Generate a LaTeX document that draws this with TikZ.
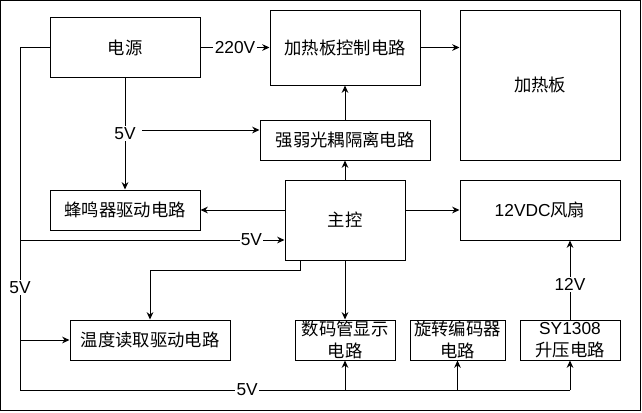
\documentclass[tikz,border=0pt]{standalone}
\usepackage{fontspec}
\setmainfont{Liberation Sans}
\newfontfamily\cjk{Noto Sans CJK SC}
\usetikzlibrary{arrows.meta}
\tikzset{
	blk/.style={draw, inner sep=0pt, align=center, font=\fontsize{13}{16.5}\selectfont},
	sz/.style 2 args={minimum width=#1*0.75pt, minimum height=#2*0.75pt},
	lbl/.style={fill=white, inner sep=1pt, font=\fontsize{13}{16}\selectfont}
}

\begin{document}
\begin{tikzpicture}[x=0.75pt, y=-0.75pt, line width=0.75pt, >={Stealth[length=5.5pt,width=5pt]}]
			\useasboundingbox (0,0) rectangle (642,412);
			\draw (0.5,0.5) rectangle (640.5,410.5);
			% boxes
			\node[blk, sz={150}{60}] (dy) at (125,47.5) {\cjk 电源};
			\node[blk, sz={150}{75}] (kz) at (345,47.5) {\cjk 加热板控制电路};
			\node[blk, sz={160}{150}] (jrb) at (540,85) {\cjk 加热板};
			\node[blk, sz={170}{40}] (gd) at (345,140) {\cjk 强弱光耦隔离电路};
			\node[blk, sz={120}{80}] (zk) at (345,220) {\cjk 主控};
			\node[blk, sz={160}{60}] (fs) at (540,210) {12VDC{\cjk 风扇}};
			\node[blk, sz={150}{40}] (fmq) at (125,210) {\cjk 蜂鸣器驱动电路};
			\node[blk, sz={160}{40}] (wd) at (150,340) {\cjk 温度读取驱动电路};
			\node[blk, sz={100}{40}] (smg) at (345,340) {{\cjk 数码管显示}\\{\cjk 电路}};
			\node[blk, sz={95}{40}] (xz) at (457.5,340) {{\cjk 旋转编码器}\\{\cjk 电路}};
			\node[blk, sz={100}{40}] (sy) at (570,340) {SY1308\\{\cjk 升压电路}};
			% helper points
			\coordinate (tl) at (20,47.5);
			\coordinate (bl) at (20,390);
			\coordinate (b240) at (20,240);
			\coordinate (b130) at (142,130);
			\coordinate (k1) at (300,270);
			% connectors
			\path[->]
			(dy) edge node[lbl] (v220) {220V} (kz)
			(zk) edge (gd)
			(gd) edge (kz)
			(zk) edge (smg)
			(dy) edge node[lbl] (v5a) {5V} (fmq);
			\draw[->] (sy.north) -- node[lbl, pos=0.44] (v12) {12V} (sy.north |- fs.south);
			\draw[->] (kz.east) -- (kz.east -| jrb.west);
			\draw[->] (b130) -- (b130 -| gd.west);
			\draw[->] (zk.west |- fmq.east) -- (fmq.east);
			\draw[->] (zk.east |- fs.west) -- (fs.west);
			\draw[->] (k1 |- zk.south) -- (k1) -| (wd.north);
			% 5V bus
			\draw (dy.west) -- (tl) -- node[lbl, pos=0.7] (v5b) {5V} (bl)
				-- node[lbl, pos=0.413] (v5c) {5V} (bl -| sy.south);
			\draw[->] (b240) -- node[lbl, pos=0.875] (v5d) {5V} (b240 -| zk.west);
			\draw[->] (tl |- wd.west) -- (wd.west);
			\draw[->] (bl -| smg.south) -- (smg.south);
			\draw[->] (bl -| xz.south) -- (xz.south);
			\draw[->] (bl -| sy.south) -- (sy.south);
		\end{tikzpicture}
\end{document}
